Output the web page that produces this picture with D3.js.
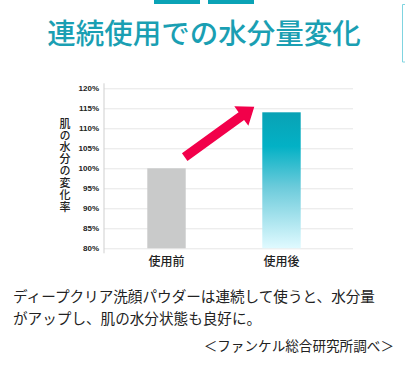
<!DOCTYPE html>
<html>
<head>
<meta charset="utf-8">
<script src="https://cdn.jsdelivr.net/npm/d3@7"></script>
<style>
  body { margin: 0; background: #fff; }
  svg { display: block; }
</style>
</head>
<body>
<script>
const width = 405
const height = 376

// data
const categories = ['使用前', '使用後']
const values = [100, 114]
const yTicks = [80, 85, 90, 95, 100, 105, 110, 115, 120]
const yTitle = '肌の水分の変化率'
const title = '連続使用での水分量変化'
const noteLines = ['ディープクリア洗顔パウダーは連続して使うと、水分量', 'がアップし、肌の水分状態も良好に。']
const source = '＜ファンケル総合研究所調べ＞'

const jp = '"Noto Sans CJK JP", "Noto Sans", sans-serif'

const svg = d3.select('body')
  .append('svg')
  .attr('width', width)
  .attr('height', height)

// header decoration
svg.append('g').selectAll('rect')
  .data([154, 208])
  .enter()
  .append('rect')
  .attr('x', d => d)
  .attr('y', 0)
  .attr('width', 46)
  .attr('height', 4)
  .attr('fill', '#0aa3b6')

svg.append('path')
  .attr('d', 'M406,4.5 H402.5 V62 H406')
  .attr('fill', 'none')
  .attr('stroke', '#7fd4e0')
  .attr('stroke-width', 1)

svg.append('text')
  .attr('x', 204)
  .attr('y', 44)
  .attr('text-anchor', 'middle')
  .style('font-family', jp)
  .style('font-size', '28.5px')
  .style('font-weight', 500)
  .style('fill', '#1a9fb3')
  .text(title)

/* ------- CHART -------*/
const y = d3.scaleLinear()
  .domain([80, 120])
  .range([248.3, 88.3])

const x = d3.scaleBand()
  .domain(categories)
  .range([112.8, 335.2])
  .paddingInner(0.666)
  .paddingOuter(0.3)

const gridLeft = 104
const gridRight = 353

const defs = svg.append('defs')
const grad = defs.append('linearGradient')
  .attr('id', 'afterGrad')
  .attr('x1', 0).attr('y1', 0)
  .attr('x2', 0).attr('y2', 1)
grad.selectAll('stop')
  .data([[0, '#09a2b5'], [0.25, '#03b1c5'], [0.55, '#6ccbdb'], [1, '#e0faff']])
  .enter()
  .append('stop')
  .attr('offset', d => d[0])
  .attr('stop-color', d => d[1])

const yAxis = svg.append('g')
  .attr('transform', `translate(${gridLeft},0)`)
  .call(d3.axisLeft(y)
    .tickValues(yTicks)
    .tickFormat(d => d + '%')
    .tickSize(-(gridRight - gridLeft))
    .tickPadding(5))

yAxis.select('.domain').remove()
yAxis.selectAll('.tick line')
  .attr('stroke', '#e6e6e6')
  .attr('stroke-width', 1)
yAxis.selectAll('.tick text')
  .style('font-family', 'Arial, "Liberation Sans", sans-serif')
  .style('font-size', '8px')
  .style('font-weight', 'bold')
  .style('fill', '#222')

svg.append('line')
  .attr('x1', gridLeft).attr('x2', gridLeft)
  .attr('y1', y(120) - 5).attr('y2', y(80) + 5)
  .attr('stroke', '#cfcfcf')

// y title, written vertically
svg.append('text')
  .attr('x', 65)
  .attr('y', 118)
  .style('writing-mode', 'vertical-rl')
  .style('font-family', jp)
  .style('font-size', '11px')
  .style('font-weight', 500)
  .style('letter-spacing', '0.9px')
  .style('fill', '#222')
  .text(yTitle)

svg.append('g').selectAll('rect')
  .data(values)
  .enter()
  .append('rect')
  .attr('x', (d, i) => x(categories[i]))
  .attr('y', d => y(d))
  .attr('width', x.bandwidth())
  .attr('height', d => y(80) - y(d))
  .attr('fill', (d, i) => i === 0 ? '#c9caca' : 'url(#afterGrad)')

svg.append('g').selectAll('text')
  .data(categories)
  .enter()
  .append('text')
  .attr('x', d => x(d) + x.bandwidth() / 2)
  .attr('y', 266)
  .attr('text-anchor', 'middle')
  .style('font-family', jp)
  .style('font-size', '12px')
  .style('font-weight', 500)
  .style('fill', '#222')
  .text(d => d)

// arrow from first bar to second
const tail = [x(categories[0]) + x.bandwidth() - 1, y(102.8)]
const tip = [x(categories[1]) - 8, y(115.4)]
const dx = tip[0] - tail[0]
const dy = tip[1] - tail[1]
const len = Math.sqrt(dx * dx + dy * dy)
const ang = Math.atan2(dy, dx) * 180 / Math.PI
const sw = 4.7
const hl = 16
const hw = 12
svg.append('path')
  .attr('d', `M0,${-sw} L${len - hl},${-sw} L${len - hl},${-hw} L${len},0 L${len - hl},${hw} L${len - hl},${sw} L0,${sw} Z`)
  .attr('transform', `translate(${tail}) rotate(${ang})`)
  .attr('fill', '#f2004a')

/* ------- NOTE -------*/
svg.append('g').selectAll('text')
  .data(noteLines)
  .enter()
  .append('text')
  .attr('x', 13)
  .attr('y', (d, i) => 302 + i * 22)
  .style('font-family', jp)
  .style('font-size', '14.6px')
  .style('fill', '#222')
  .text(d => d)

svg.append('text')
  .attr('x', 394)
  .attr('y', 351)
  .attr('text-anchor', 'end')
  .style('font-family', jp)
  .style('font-size', '13.6px')
  .style('fill', '#222')
  .text(source)
</script>
</body>
</html>
